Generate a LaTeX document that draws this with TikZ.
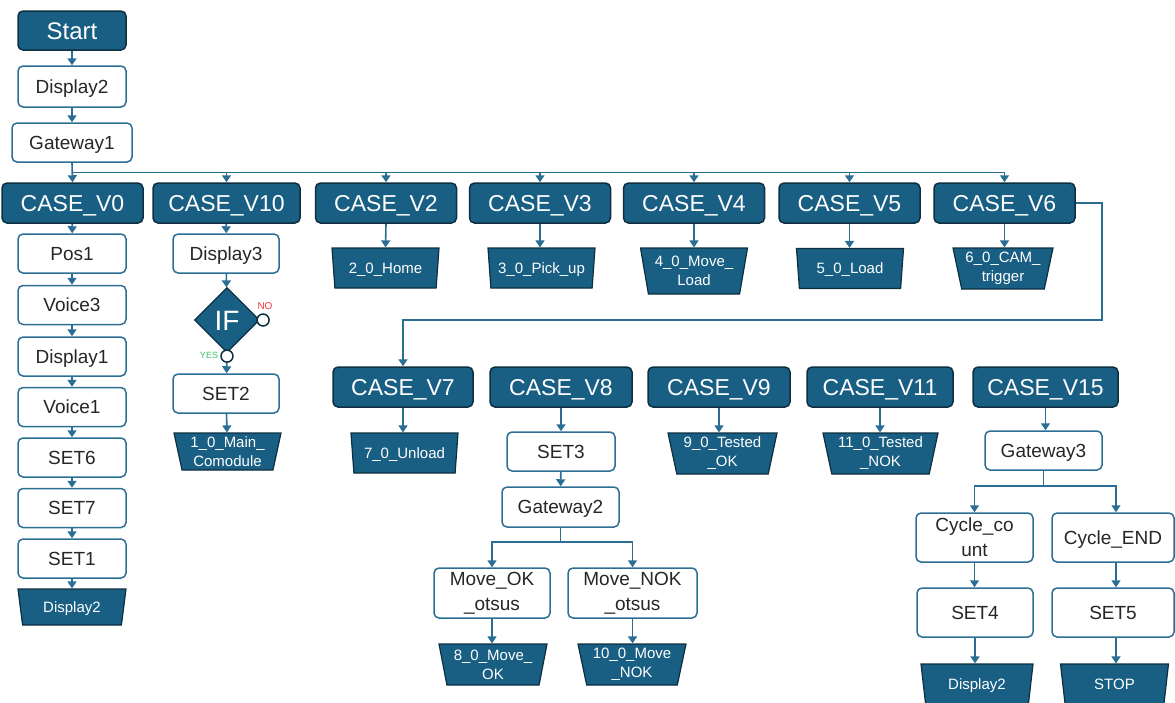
\documentclass[tikz,border=0pt]{standalone}
\usepackage{fontspec}
\setmainfont{Liberation Sans}
\usetikzlibrary{shapes.geometric,arrows.meta}
\definecolor{tealF}{HTML}{195E83}
\definecolor{darkE}{HTML}{0E2F40}
\definecolor{edgeT}{HTML}{2C6F94}
\definecolor{lineT}{HTML}{2A6E93}
\definecolor{noRed}{HTML}{F03A3A}
\definecolor{yesGreen}{HTML}{3CC36B}
\newcommand\fsBig{\fontsize{24}{28}\selectfont}
\newcommand\fsIf{\fontsize{28}{32}\selectfont}
\newcommand\fsCase{\fontsize{23}{27}\selectfont}
\newcommand\fsNorm{\fontsize{19}{25}\selectfont}
\newcommand\fsTrap{\fontsize{15}{19}\selectfont}
\begin{document}
\begin{tikzpicture}[x=1pt,y=-1pt,
  wbox/.style={draw=edgeT, line width=1.5pt, fill=white, rounded corners=5pt,
    minimum width=108pt, minimum height=39pt, inner sep=0pt, align=center,
    font=\fsNorm, text=black!85, text height=13.7pt, text depth=0pt},
  cbox/.style={draw=darkE, line width=1.5pt, fill=tealF, rounded corners=5pt,
    minimum width=141pt, minimum height=40pt, inner sep=0pt, align=center,
    font=\fsCase, text=white, text height=16.5pt, text depth=0pt},
  trap/.style={trapezium, trapezium left angle=105, trapezium right angle=105,
    trapezium stretches body=true, draw=darkE, line width=1.2pt, fill=tealF,
    minimum width=107pt, minimum height=40pt, inner sep=0pt, align=center,
    font=\fsTrap, text=white, text height=10.8pt, text depth=0pt},
  trapw/.style={trap, trapezium left angle=113, trapezium right angle=113},
  ml/.style={text height=, text depth=},
  circ/.style={circle, draw=darkE, line width=1.5pt, fill=white,
    minimum size=12pt, inner sep=0pt},
  arr/.style={draw=lineT, line width=1.6pt, -{Triangle[width=9pt,length=7pt]}},
  plain/.style={draw=lineT, line width=1.6pt}
]
\useasboundingbox (0,0) rectangle (1175,702);

% top chain
\node[cbox, minimum width=108pt, minimum height=39pt, font=\fsBig, text height=17.2pt] (start) at (72,30.5) {Start};
\node[wbox, minimum height=41pt] (d2) at (72,86.5) {Display2};
\node[wbox, minimum width=120pt] (g1) at (72,142.5) {Gateway1};
\draw[arr] (start) -- (d2);
\draw[arr] (d2) -- (g1);

% first CASE row
\node[cbox] (cv0) at (72.5,203) {CASE\_V0};
\node[cbox, minimum width=147pt] (cv10) at (226.5,203) {CASE\_V10};
\node[cbox] (cv2) at (386,203) {CASE\_V2};
\node[cbox] (cv3) at (540,203) {CASE\_V3};
\node[cbox] (cv4) at (694,203) {CASE\_V4};
\node[cbox] (cv5) at (849.5,203) {CASE\_V5};
\node[cbox] (cv6) at (1004.5,203) {CASE\_V6};
\coordinate (bus) at (72,172.5);
\draw[arr] (g1.south) -- (cv0.north);
\foreach \n in {cv10,cv2,cv3,cv4,cv5,cv6}
  \draw[arr] (bus) -| (\n.north);

% CASE_V0 column
\node[wbox] (pos1) at (72,253.5) {Pos1};
\node[wbox] (vo3) at (72,305) {Voice3};
\node[wbox] (dp1) at (72,356.5) {Display1};
\node[wbox] (vo1) at (72,407) {Voice1};
\node[wbox] (st6) at (72,457.5) {SET6};
\node[wbox] (st7) at (72,508) {SET7};
\node[wbox] (st1) at (72,558.5) {SET1};
\node[trapw, minimum width=108pt, minimum height=36pt] (tl) at (72,607) {Display2};
\draw[arr] (cv0) -- (pos1);
\draw[arr] (pos1) -- (vo3);
\draw[arr] (vo3) -- (dp1);
\draw[arr] (dp1) -- (vo1);
\draw[arr] (vo1) -- (st6);
\draw[arr] (st6) -- (st7);
\draw[arr] (st7) -- (st1);
\draw[arr] (st1) -- (tl);

% CASE_V10 column
\node[wbox, minimum width=106pt] (dp3) at (226,253.5) {Display3};
\node[diamond, draw=darkE, line width=1.2pt, fill=tealF, minimum width=65pt,
  minimum height=65pt, inner sep=0pt, text=white, font=\fsIf,
  text height=20pt, text depth=0pt] (ifn) at (227,320) {IF};
\node[circ] (no) at ([xshift=3pt]ifn.east) {};
\node[circ] (yes) at ([yshift=-3pt]ifn.south) {};
\node[text=noRed, font=\fontsize{10}{12}\selectfont, inner sep=0pt] (nol) at (265,306) {NO};
\node[text=yesGreen, font=\fontsize{9}{11}\selectfont, inner sep=0pt] (yesl) at (209,355) {YES};
\node[wbox, minimum width=106pt] (st2) at (226,393.5) {SET2};
\node[trap, ml, minimum height=37pt] (t1) at (227.5,451.5) {1\_0\_Main\_\\Comodule};
\draw[arr] (cv10) -- (dp3);
\draw[arr] (dp3) -- (ifn);
\draw[arr] (yes) -- (st2);
\draw[arr] (st2) -- (t1);

% first row trapezoids
\node[trap] (t2) at (385.5,268) {2\_0\_Home};
\node[trap] (t3) at (541.5,268) {3\_0\_Pick\_up};
\node[trap, ml, minimum height=46pt] (t4) at (694,271) {4\_0\_Move\_\\Load};
\node[trap] (t5) at (850,268.5) {5\_0\_Load};
\node[trap, ml, minimum width=100pt, minimum height=41pt] (t6) at (1003,268.5) {6\_0\_CAM\_\\trigger};
\draw[arr] (cv2.south) -- (t2.north);
\draw[arr] (cv3.south) -- (cv3.south |- t3.north);
\draw[arr] (cv4) -- (t4);
\draw[arr] (cv5.south) -- (cv5.south |- t5.north);
\draw[arr] (cv6.south) -- (cv6.south |- t6.north);

% second CASE row
\node[cbox, minimum width=140pt] (cv7) at (403,387) {CASE\_V7};
\node[cbox, minimum width=142pt] (cv8) at (561,387) {CASE\_V8};
\node[cbox, minimum width=142pt] (cv9) at (719,387) {CASE\_V9};
\node[cbox, minimum width=146pt] (cv11) at (880,387) {CASE\_V11};
\node[cbox, minimum width=145pt] (cv15) at (1045.5,387) {CASE\_V15};
\coordinate (r1) at (1102,320);
\draw[arr, line width=1.4pt] (cv6.east) -| (r1) -| (cv7.north);

\node[trap] (t7) at (404.5,453) {7\_0\_Unload};
\node[wbox] (st3) at (561,451.5) {SET3};
\node[trap, ml, minimum width=109pt, minimum height=41pt] (t9) at (722.5,453.5) {9\_0\_Tested\\\_OK};
\node[trap, ml, minimum width=115pt, minimum height=41pt] (t11) at (880.5,453.5) {11\_0\_Tested\\\_NOK};
\draw[arr] (cv7.south) -- (cv7.south |- t7.north);
\draw[arr] (cv8) -- (st3);
\draw[arr] (cv9.south) -- (cv9.south |- t9.north);
\draw[arr] (cv11.south) -- (cv11.south |- t11.north);

% CASE_V8 branch
\node[wbox, minimum width=117pt, minimum height=40pt] (g2) at (560.5,507) {Gateway2};
\node[wbox, ml, minimum width=116pt, minimum height=50pt] (mok) at (492,593) {Move\_OK\\\_otsus};
\node[wbox, ml, minimum width=129pt, minimum height=50pt] (mnok) at (632.5,593) {Move\_NOK\\\_otsus};
\node[trap, ml, minimum width=108pt, minimum height=41pt] (t8) at (493,664.5) {8\_0\_Move\_\\OK};
\node[trap, ml, minimum width=108pt, minimum height=41pt] (t10) at (632,664.5) {10\_0\_Move\\\_NOK};
\coordinate (sp2) at (560.5,542);
\draw[arr] (st3) -- (g2);
\draw[plain] (g2.south) -- (sp2);
\draw[arr] (sp2) -| (mok.north);
\draw[arr] (sp2) -| (mnok.north);
\draw[arr] (mok.south) -- (mok.south |- t8.north);
\draw[arr] (mnok.south) -- (mnok.south |- t10.north);

% CASE_V15 branch
\node[wbox, minimum width=117pt] (g3) at (1043.5,450.5) {Gateway3};
\node[wbox, ml, minimum width=117pt, minimum height=49pt] (cc) at (974.5,537.5) {Cycle\_co\\unt};
\node[wbox, minimum width=122pt, minimum height=49pt] (ce) at (1113,537.5) {Cycle\_END};
\node[wbox, minimum width=116pt, minimum height=49pt] (st4) at (975,612.5) {SET4};
\node[wbox, minimum width=122pt, minimum height=49pt] (st5) at (1113,612.5) {SET5};
\node[trapw, minimum width=112pt, minimum height=40pt] (td2) at (977,684) {Display2};
\node[trapw, minimum width=108pt, minimum height=40pt] (tstop) at (1114.5,684) {STOP};
\coordinate (sp3) at (1043.5,486);
\draw[arr] (cv15.south) -- (cv15.south |- g3.north);
\draw[plain] (g3.south) -- (sp3);
\draw[arr] (sp3) -| (cc.north);
\draw[arr] (sp3) -| ([xshift=3pt]ce.north);
\draw[arr] (cc.south) -- (cc.south |- st4.north);
\draw[arr] ([xshift=3pt]ce.south) -- ([xshift=3pt]st5.north);
\draw[arr] (st4.south) -- (st4.south |- td2.north);
\draw[arr] ([xshift=3pt]st5.south) -- ([xshift=3pt]st5.south |- tstop.north);
\end{tikzpicture}
\end{document}
